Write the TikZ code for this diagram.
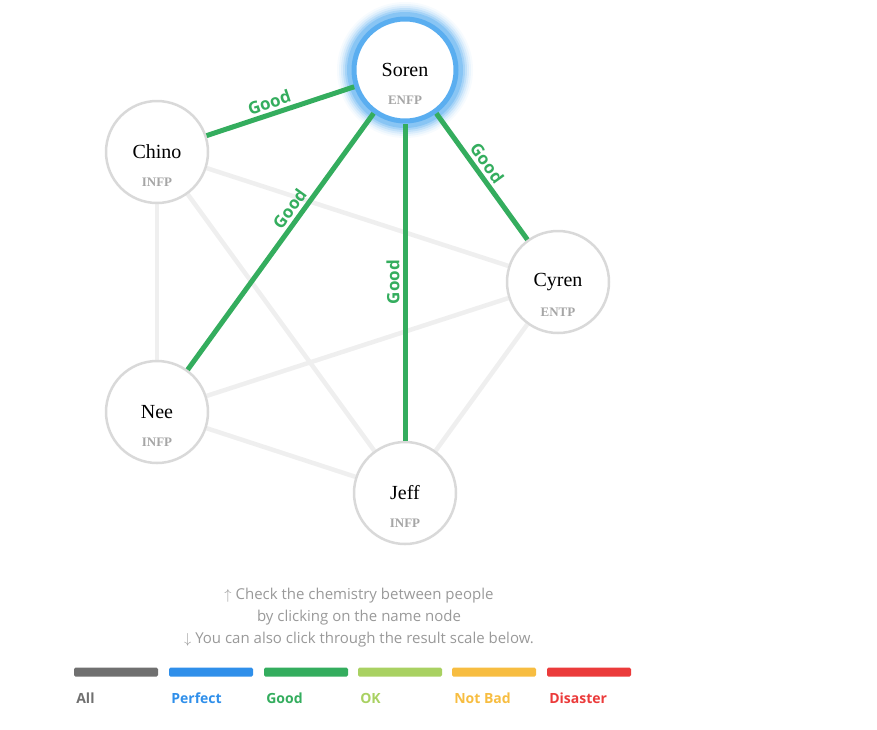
\documentclass[tikz,border=0pt]{standalone}
\usepackage{fontspec}
\setmainfont{Liberation Serif}
\newfontfamily\uisans{Open Sans}
\usetikzlibrary{arrows.meta,positioning,calc,backgrounds}
\definecolor{goodcol}{HTML}{34AD5E}
\definecolor{perfcol}{HTML}{2F8FEA}
\definecolor{okcol}{HTML}{A9D162}
\definecolor{badcol}{HTML}{F7BD41}
\definecolor{discol}{HTML}{EB3B3B}
\definecolor{allcol}{HTML}{707070}
\definecolor{ringcol}{HTML}{D9D9D9}
\definecolor{edgecol}{HTML}{EFEFEF}
\definecolor{glowcol}{HTML}{5AAEF0}
\begin{document}
\begin{tikzpicture}[
    x=1pt, y=-1pt,
    person/.style={
        draw=ringcol, line width=2.5pt, circle, fill=white,
        minimum size=102pt, inner sep=0pt
    },
    pname/.style={font=\fontsize{20}{22}\selectfont, yshift=0pt},
    ptype/.style={font=\fontsize{13}{14}\selectfont\bfseries, text=black!35, yshift=-30pt},
    weak/.style={draw=edgecol, line width=4.5pt},
    good/.style={draw=goodcol, line width=5pt},
    glabel/.style={font=\uisans\fontsize{17}{18}\selectfont\bfseries, text=goodcol, sloped, above, inner sep=3pt},
    scalebar/.style={fill=#1, rounded corners=1.5pt, minimum width=84pt, minimum height=9pt, inner sep=0pt},
    scaletxt/.style={font=\uisans\fontsize{14}{15}\selectfont\bfseries, text=#1},
]
\useasboundingbox (0,0) rectangle (877,729);

% ── People ──
\foreach \r/\o in {68/0.05,66/0.08,64/0.12,62/0.18,60/0.26,58/0.4}
    \fill[glowcol, opacity=\o] (405,70) circle (\r);
\node[person, draw=glowcol, line width=5pt] (soren) at (405,70) {};
\node[person] (chino) at (157,152) {};
\node[person] (cyren) at (558,282) {};
\node[person] (nee) at (157,412) {};
\node[person] (jeff) at (405,493) {};

% ── Connections ──
\begin{scope}[on background layer]
\draw[weak] (chino) -- (cyren);
\draw[weak] (chino) -- (nee);
\draw[weak] (chino) -- (jeff);
\draw[weak] (nee) -- (cyren);
\draw[weak] (nee) -- (jeff);
\draw[weak] (cyren) -- (jeff);
\end{scope}
\draw[good] (chino) -- node[glabel, pos=0.45] {Good} (soren);
\draw[good] (nee) -- node[glabel, pos=0.6] {Good} (soren);
\draw[good] (jeff) -- node[glabel, pos=0.5] {Good} (soren);
\draw[good] (soren) -- node[glabel, pos=0.45] {Good} (cyren);

% ── Names ──
\foreach \p/\n/\t in {soren/Soren/ENFP, chino/Chino/INFP, cyren/Cyren/ENTP, nee/Nee/INFP, jeff/Jeff/INFP} {
    \node[pname] at (\p) {\n};
    \node[ptype] at (\p) {\t};
}

% ── Hint ──
\node[font=\uisans\fontsize{15}{22}\selectfont, text=black!40, align=center] (hint) at (359,618)
    {$\uparrow$ Check the chemistry between people\\by clicking on the name node\\$\downarrow$ You can also click through the result scale below.};

% ── Result scale ──
\foreach \c/\lab/\x in {allcol/All/116, perfcol/Perfect/211, goodcol/Good/306, okcol/OK/400, badcol/Not Bad/494, discol/Disaster/589} {
    \node[scalebar=\c] (bar\c) at (\x,672) {};
    \node[scaletxt=\c, anchor=west] at ([xshift=-1pt]bar\c.west |- 0,698) {\lab};
}
\end{tikzpicture}
\end{document}
